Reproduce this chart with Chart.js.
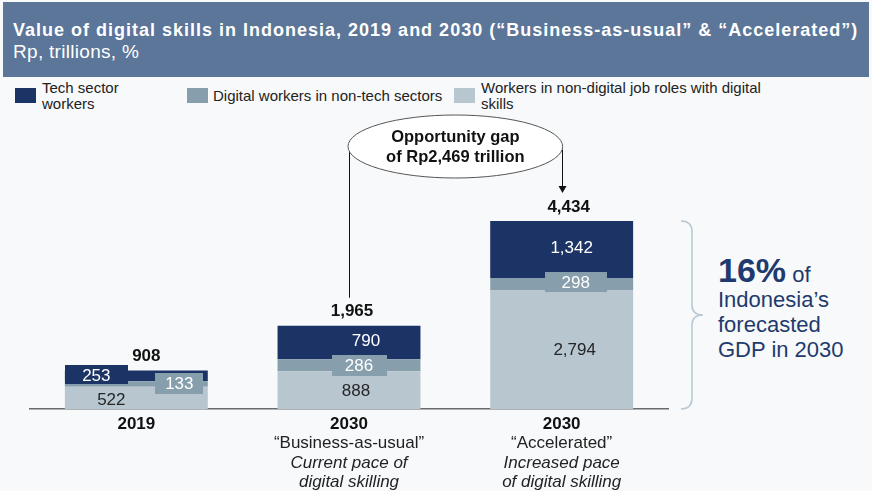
<!DOCTYPE html>
<html>
<head>
<meta charset="utf-8">
<script src="https://cdn.jsdelivr.net/npm/chart.js@4"></script>
<style>
  body { margin: 0; width: 872px; height: 491px; overflow: hidden; position: relative;
         background: #f7f9fa; font-family: 'Liberation Sans', Arial, sans-serif; }
  .header { position: absolute; left: 3px; top: 2px; width: 866px; height: 75px; background: #5b7698; color: #fff; }
  .header h1 { position: absolute; left: 10px; top: 18px; margin: 0; font-size: 18px; letter-spacing: 1px;
               font-weight: bold; white-space: nowrap; line-height: 21px; }
  .header p { position: absolute; left: 10px; top: 39px; margin: 0; font-size: 19px; letter-spacing: 0.3px; line-height: 22px; }
  .legend-item { position: absolute; top: 80px; font-size: 15px; line-height: 16px; color: #222; }
  .legend-item .sw { position: absolute; left: 0; top: 8px; width: 21px; height: 15px; }
  .legend-item .tx { position: absolute; white-space: nowrap; }
  .note { position: absolute; left: 718px; top: 258px; color: #1f3a6e; font-size: 22px; line-height: 25px; white-space: nowrap; }
  .note b { font-size: 34px; }
  #chart { position: absolute; left: 0; top: 0; }
</style>
</head>
<body>
<div class="header">
  <h1>Value of digital skills in Indonesia, 2019 and 2030 (“Business-as-usual” &amp; “Accelerated”)</h1>
  <p>Rp, trillions, %</p>
</div>

<div class="legend-item" style="left:15px">
  <div class="sw" style="background:#1c3366"></div>
  <div class="tx" style="left:27px;top:0">Tech sector<br>workers</div>
</div>
<div class="legend-item" style="left:187px">
  <div class="sw" style="background:#879eac"></div>
  <div class="tx" style="left:26px;top:8px">Digital workers in non-tech sectors</div>
</div>
<div class="legend-item" style="left:454px">
  <div class="sw" style="background:#b7c6cf"></div>
  <div class="tx" style="left:27px;top:0">Workers in non-digital job roles with digital<br>skills</div>
</div>

<div class="note"><b>16%</b> of<br>Indonesia’s<br>forecasted<br>GDP in 2030</div>

<canvas id="chart" width="872" height="491"></canvas>

<script>
const categories = ['2019', '2030 BAU', '2030 Accelerated'];
const techWorkers = [253, 790, 1342];
const digitalNonTech = [133, 286, 298];
const nonDigitalRoles = [522, 888, 2794];
const totals = [908, 1965, 4434];
const tickLines = [
  ['2019'],
  ['2030', '“Business-as-usual”', 'Current pace of', 'digital skilling'],
  ['2030', '“Accelerated”', 'Increased pace', 'of digital skilling'],
];

const COLORS = { tech: '#1c3366', mid: '#879eac', light: '#b7c6cf' };
const FONT = "'Liberation Sans', Arial, sans-serif";

// where each segment label sits relative to the segment centre, and the tab behind it
// index: [dataset][bar] -> [dx, dy, boxW, boxH]
const LABEL_POS = {
  tech:  [[-40, -1, 63, 19], [17, -2, 0, 0], [10, -2, 0, 0]],
  mid:   [[43, -1, 48, 21], [10, 0, 55, 21], [14, -2, 62, 20]],
  light: [[-25, 1, 0, 0], [7, 0, 0, 0], [13, 0, 0, 0]],
};
const TOTAL_DX = [10, 3, 7];

const fmt = v => v.toLocaleString('en-US');

const segmentLabels = {
  id: 'segmentLabels',
  afterDatasetsDraw(chart) {
    const { ctx, scales } = chart;
    ctx.save();
    ctx.font = `17px ${FONT}`;
    ctx.textAlign = 'center';
    ctx.textBaseline = 'middle';
    chart.data.datasets.forEach((ds, di) => {
      const meta = chart.getDatasetMeta(di);
      meta.data.forEach((bar, i) => {
        const [dx, dy, bw, bh] = LABEL_POS[ds.key][i];
        const x = bar.x + dx;
        const y = (bar.y + bar.base) / 2 + dy;
        if (bw) {
          ctx.fillStyle = ds.backgroundColor;
          ctx.fillRect(Math.round(x - bw / 2), Math.round(y - bh / 2), bw, bh);
        }
        ctx.fillStyle = ds.key === 'light' ? '#262626' : '#ffffff';
        ctx.fillText(fmt(ds.data[i]), x, y + 1);
      });
    });

    // totals above each column
    const top = chart.getDatasetMeta(chart.data.datasets.length - 1);
    ctx.font = `bold 17px ${FONT}`;
    ctx.fillStyle = '#111';
    top.data.forEach((bar, i) => {
      ctx.fillText(fmt(totals[i]), bar.x + TOTAL_DX[i], bar.y - 14);
    });

    // category labels under the axis, one style per line
    const styles = [`bold 17px ${FONT}`, `17px ${FONT}`, `italic 17px ${FONT}`, `italic 17px ${FONT}`];
    const baseY = scales.y.getPixelForValue(0);
    tickLines.forEach((lines, i) => {
      const x = scales.x.getPixelForValue(i);
      lines.forEach((line, li) => {
        ctx.font = styles[li];
        ctx.fillStyle = li === 0 ? '#111' : '#222';
        ctx.fillText(line, x, baseY + 15 + li * 19.5);
      });
    });
    ctx.restore();
  },
};

const gapCallout = {
  id: 'gapCallout',
  afterDraw(chart) {
    const { ctx, scales } = chart;
    const meta = chart.getDatasetMeta(chart.data.datasets.length - 1);
    const bau = meta.data[1];
    const acc = meta.data[2];
    const gap = totals[2] - totals[1];
    const cx = (bau.x + acc.x) / 2;
    const cy = 146.5;
    const rx = (acc.x - bau.x) / 2 + 1;
    const ry = 31.5;
    ctx.save();
    ctx.strokeStyle = '#111';
    ctx.lineWidth = 1;
    // left leg down to the BAU total
    ctx.beginPath();
    ctx.moveTo(Math.round(bau.x) + 0.5, cy + 3);
    ctx.lineTo(Math.round(bau.x) + 0.5, bau.y - 28);
    ctx.stroke();
    // right leg with arrow to the accelerated total
    const ax = Math.round(acc.x) + 0.5;
    const tip = acc.y - 29;
    ctx.beginPath();
    ctx.moveTo(ax, cy + 3);
    ctx.lineTo(ax, tip - 4);
    ctx.stroke();
    ctx.fillStyle = '#111';
    ctx.beginPath();
    ctx.moveTo(ax - 4, tip - 6);
    ctx.lineTo(ax + 4, tip - 6);
    ctx.lineTo(ax, tip + 1);
    ctx.closePath();
    ctx.fill();

    ctx.beginPath();
    ctx.ellipse(cx, cy, rx, ry, 0, 0, Math.PI * 2);
    ctx.fillStyle = '#ffffff';
    ctx.fill();
    ctx.strokeStyle = '#555';
    ctx.stroke();

    ctx.fillStyle = '#111';
    ctx.font = `bold 16.5px ${FONT}`;
    ctx.textAlign = 'center';
    ctx.textBaseline = 'middle';
    ctx.fillText('Opportunity gap', cx, cy - 9);
    ctx.fillText(`of Rp${fmt(gap)} trillion`, cx, cy + 11);

    // brace spanning the accelerated column
    const yTop = scales.y.getPixelForValue(totals[2]);
    const yBot = scales.y.getPixelForValue(0);
    const yMid = (yTop + yBot) / 2;
    const x0 = 681, x1 = 692, x2 = 703;
    ctx.strokeStyle = '#b8c7d2';
    ctx.lineWidth = 1.5;
    ctx.beginPath();
    ctx.moveTo(x0, yTop);
    ctx.quadraticCurveTo(x1, yTop, x1, yTop + 11);
    ctx.lineTo(x1, yMid - 10);
    ctx.quadraticCurveTo(x1, yMid, x2, yMid);
    ctx.quadraticCurveTo(x1, yMid, x1, yMid + 10);
    ctx.lineTo(x1, yBot - 11);
    ctx.quadraticCurveTo(x1, yBot, x0, yBot);
    ctx.stroke();
    ctx.restore();
  },
};

new Chart(document.getElementById('chart'), {
  type: 'bar',
  data: {
    labels: categories,
    datasets: [
      { key: 'light', label: 'Workers in non-digital job roles with digital skills', data: nonDigitalRoles, backgroundColor: COLORS.light },
      { key: 'mid', label: 'Digital workers in non-tech sectors', data: digitalNonTech, backgroundColor: COLORS.mid },
      { key: 'tech', label: 'Tech sector workers', data: techWorkers, backgroundColor: COLORS.tech },
    ],
  },
  options: {
    responsive: false,
    animation: false,
    layout: { padding: { top: 197, bottom: 82, left: 30, right: 204 } },
    datasets: { bar: { categoryPercentage: 1, barPercentage: 0.672 } },
    plugins: { legend: { display: false }, tooltip: { enabled: false } },
    scales: {
      x: {
        stacked: true,
        grid: { display: false, drawTicks: false },
        border: { display: true, color: '#6b6b6b', width: 1.5 },
        ticks: { display: false },
        afterFit(scale) { scale.height = 0; },
      },
      y: { stacked: true, display: false, min: 0, max: 5000 },
    },
  },
  plugins: [segmentLabels, gapCallout],
});
</script>
</body>
</html>
